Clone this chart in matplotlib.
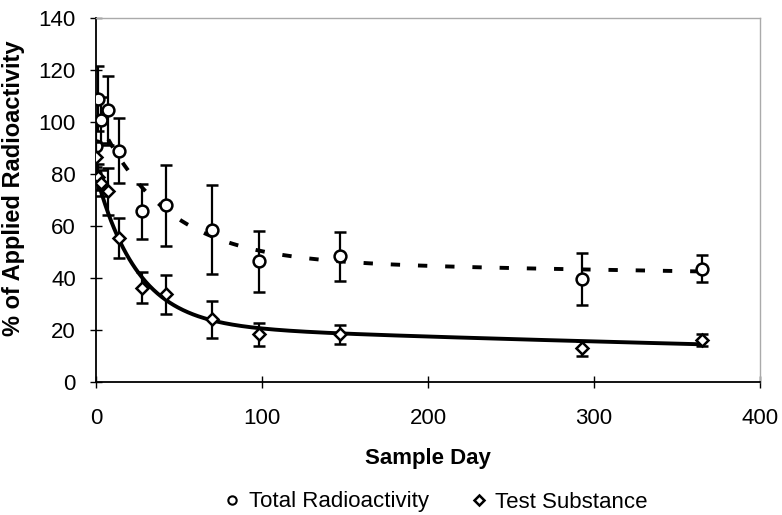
import numpy as np
import matplotlib
matplotlib.use("Agg")
import matplotlib.pyplot as plt
from matplotlib.lines import Line2D

# ---- data ----
total_days = [0, 1, 3, 7, 14, 28, 42, 70, 98, 147, 293, 365]
total_vals = [90.8, 109.0, 100.8, 104.5, 88.9, 65.6, 67.9, 58.6, 46.4, 48.3, 39.5, 43.6]
total_err = [8.0, 12.4, 9.0, 13.2, 12.5, 10.5, 15.7, 17.0, 11.8, 9.3, 10.0, 5.3]

test_days = [0, 1, 3, 7, 14, 28, 42, 70, 98, 147, 293, 365]
test_vals = [86.5, 79.0, 76.5, 73.3, 55.4, 36.3, 33.7, 24.1, 18.3, 18.3, 12.9, 16.1]
test_err = [6.0, 5.0, 5.0, 9.0, 7.7, 5.9, 7.6, 7.0, 4.5, 3.6, 3.0, 2.3]

# bi-exponential fit parameters
total_fit = dict(A=56.2, a=0.0242, B=46.4, b=0.00024)
test_fit = dict(A=58.1, a=0.0403, B=21.9, b=0.00113)

x_ticks = [0, 100, 200, 300, 400]
y_ticks = [0, 20, 40, 60, 80, 100, 120, 140]

plt.rcParams['font.family'] = ['Liberation Sans', 'DejaVu Sans']

fig = plt.figure(figsize=(7.82, 5.15), dpi=100)
ax = fig.add_axes([96/782, 1-382/515, (760-96)/782, (382-18)/515])

def biexp(t, p):
    return p['A']*np.exp(-p['a']*t) + p['B']*np.exp(-p['b']*t)

t = np.linspace(0, 365, 600)
ax.plot(t, biexp(t, total_fit), color='black', lw=2.8, ls=(0, (2.4, 4.6)), zorder=2)
ax.plot(t, biexp(t, test_fit), color='black', lw=2.8, ls='-', zorder=2)

ax.errorbar(total_days, total_vals, yerr=total_err, fmt='o', ms=8.5, mfc='white',
            mec='black', mew=1.8, ecolor='black', elinewidth=1.6, capsize=4.5,
            capthick=1.6, zorder=3)
ax.errorbar(test_days, test_vals, yerr=test_err, fmt='D', ms=6.5, mfc='white',
            mec='black', mew=1.8, ecolor='black', elinewidth=1.6, capsize=4.5,
            capthick=1.6, zorder=4)

ax.set_xlim(0, 400)
ax.set_ylim(0, 140)
ax.set_xticks(x_ticks)
ax.set_yticks(y_ticks)
ax.tick_params(direction='inout', length=9, width=1, labelsize=16, colors='black')
ax.tick_params(axis='x', pad=14)
ax.tick_params(axis='y', pad=10)

for s in ['left', 'bottom']:
    ax.spines[s].set_linewidth(1.3)
    ax.spines[s].set_color('black')
for s in ['top', 'right']:
    ax.spines[s].set_linewidth(1.0)
    ax.spines[s].set_color('#aaaaaa')

ax.set_xlabel('Sample Day', fontsize=16, fontweight='bold')
ax.xaxis.set_label_coords(0.5, (382-448)/364)
ax.set_ylabel('% of Applied Radioactivity', fontsize=17, fontweight='bold')
ax.yaxis.set_label_coords(-(96-25)/664, (382-188)/364)

handles = [
    Line2D([], [], marker='o', ls='none', ms=6, mfc='white', mec='black', mew=1.5),
    Line2D([], [], marker='D', ls='none', ms=5, mfc='white', mec='black', mew=1.8),
]
fig.legend(handles, ['Total Radioactivity', 'Test Substance'], loc='center',
           bbox_to_anchor=(435/782, 1-502/515), ncol=2, frameon=False,
           fontsize=16, handletextpad=0.3, columnspacing=1.8, handlelength=0.9,
           borderaxespad=0, borderpad=0)

fig.savefig('out.png', dpi=100, facecolor='white')
